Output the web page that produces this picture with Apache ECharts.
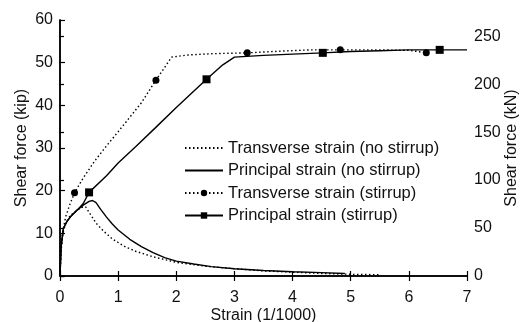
<!DOCTYPE html>
<html>
<head>
<meta charset="utf-8">
<script src="https://cdn.jsdelivr.net/npm/echarts@6/dist/echarts.min.js"></script>
<style>
  html, body { margin: 0; padding: 0; background: #fff; }
  #chart { width: 526px; height: 322px; }
</style>
</head>
<body>
<div id="chart"></div>
<script>
// Strain axis ticks (1/1000) and force ticks (kip, kN)
const strainTicks = [0, 1, 2, 3, 4, 5, 6, 7];
const kipTicks = [0, 10, 20, 30, 40, 50, 60];
const kNTicks = [0, 50, 100, 150, 200, 250];
const KIP_TO_KN = 4.448;

// Transverse strain, no stirrup
const tnsNoStirStrain = [0, 0.02, 0.05, 0.1, 0.18, 0.28, 0.38, 0.44, 0.52, 0.62, 0.75, 0.9, 1.1, 1.3, 1.6, 2.0, 2.5, 3.0, 3.5, 4.0, 4.5, 5.0, 5.5];
const tnsNoStirShear  = [0, 6, 10, 12.5, 14.2, 15.3, 16.1, 16.2, 14.5, 12.4, 10.5, 8.7, 7.0, 5.8, 4.5, 3.2, 2.3, 1.7, 1.2, 0.9, 0.6, 0.4, 0.3];

// Principal strain, no stirrup
const prnNoStirStrain = [0, 0.02, 0.06, 0.12, 0.2, 0.3, 0.4, 0.5, 0.56, 0.62, 0.7, 0.8, 0.9, 1.0, 1.2, 1.4, 1.6, 1.8, 2.0, 2.3, 2.6, 3.0, 3.5, 4.0, 4.5, 4.9];
const prnNoStirShear  = [0, 7, 11.2, 12.8, 14.2, 15.5, 16.6, 17.5, 17.7, 17.2, 15.6, 13.8, 12.2, 10.8, 8.6, 6.9, 5.5, 4.3, 3.5, 2.8, 2.2, 1.7, 1.3, 1.0, 0.8, 0.6];

// Transverse strain, with stirrups (marked = measured points)
const tnsStirStrain = [0, 0.01, 0.04, 0.1, 0.17, 0.25, 0.4, 0.6, 0.8, 1.0, 1.2, 1.4, 1.65, 1.92, 2.2, 2.6, 3.22, 3.8, 4.3, 4.82, 5.4, 6.0, 6.3];
const tnsStirShear  = [0, 5, 10, 14, 16.8, 19.5, 23, 27, 30.5, 33.8, 37.2, 40.6, 45.9, 51.3, 51.8, 52.1, 52.3, 52.7, 53.0, 53.0, 53.0, 52.9, 52.3];
const tnsStirMarked = [0, 0, 0, 0, 0, 1, 0, 0, 0, 0, 0, 0, 1, 0, 0, 0, 1, 0, 0, 1, 0, 0, 1];

// Principal strain, with stirrups
const prnStirStrain = [0, 0.02, 0.06, 0.12, 0.2, 0.3, 0.4, 0.5, 0.8, 1.0, 1.3, 1.63, 2.0, 2.52, 2.8, 3.0, 3.5, 4.0, 4.52, 5.0, 5.5, 6.0, 6.53, 7.0];
const prnStirShear  = [0, 7, 11.2, 12.8, 14.2, 15.5, 17.0, 19.6, 23.5, 26.5, 30.3, 34.6, 39.5, 46.1, 49.5, 51.3, 51.7, 52.0, 52.3, 52.6, 52.8, 53.0, 53.0, 53.0];
const prnStirMarked = [0, 0, 0, 0, 0, 0, 0, 1, 0, 0, 0, 0, 0, 1, 0, 0, 0, 0, 1, 0, 0, 0, 1, 0];

const seriesNames = [
  'Transverse strain (no stirrup)',
  'Principal strain (no stirrup)',
  'Transverse strain (stirrup)',
  'Principal strain (stirrup)'
];

const FONT = '"Liberation Sans", Arial, Helvetica, sans-serif';
const INK = '#111';

function pairs(xs, ys, marked) {
  return xs.map((x, i) => {
    const item = { value: [x, ys[i]] };
    if (marked && !marked[i]) item.symbol = 'none';
    return item;
  });
}

const dotted = { color: '#000', width: 1.4, type: [1.5, 2.5] };
const solid = { color: '#000', width: 1.4, type: 'solid' };

const chart = echarts.init(document.getElementById('chart'), null, { renderer: 'canvas' });

chart.setOption({
  animation: false,
  backgroundColor: '#fff',
  textStyle: { fontFamily: FONT, color: INK },
  grid: { left: 60, right: 59, top: 20, bottom: 46, containLabel: false, outerBoundsMode: 'none' },
  legend: {
    orient: 'vertical',
    left: 184,
    top: 139,
    padding: 0,
    itemWidth: 38,
    itemHeight: 8,
    itemGap: 4.5,
    data: [
      { name: seriesNames[0], itemStyle: { opacity: 0 } },
      { name: seriesNames[1], itemStyle: { opacity: 0 } },
      { name: seriesNames[2] },
      { name: seriesNames[3] }
    ],
    textStyle: { fontFamily: FONT, fontSize: 16.5, color: INK, lineHeight: 18 },
    inactiveColor: '#000',
    selectedMode: false
  },
  xAxis: [
    {
      type: 'value', position: 'bottom',
      min: strainTicks[0], max: strainTicks[strainTicks.length - 1], interval: 1,
      name: 'Strain (1/1000)', nameLocation: 'middle', nameGap: 32, nameMoveOverlap: false,
      nameTextStyle: { fontFamily: FONT, fontSize: 16, color: INK },
      axisLine: { show: true, lineStyle: { color: '#000', width: 1.5 } },
      axisTick: { show: true, inside: true, length: 5, lineStyle: { color: '#000', width: 1.2 } },
      axisLabel: { fontFamily: FONT, fontSize: 16, color: INK, margin: 14 },
      splitLine: { show: false }
    },
    {
      type: 'value', position: 'top',
      min: strainTicks[0], max: strainTicks[strainTicks.length - 1], interval: 1,
      axisLine: { show: true, lineStyle: { color: '#000', width: 1.5 } },
      axisTick: { show: true, inside: true, length: 5, lineStyle: { color: '#000', width: 1.2 } },
      axisLabel: { show: false },
      splitLine: { show: false }
    }
  ],
  yAxis: [
    {
      type: 'value', position: 'left',
      min: kipTicks[0], max: kipTicks[kipTicks.length - 1], interval: 10,
      name: 'Shear force (kip)', nameLocation: 'middle', nameGap: 30, nameRotate: 90, nameMoveOverlap: false,
      nameTextStyle: { fontFamily: FONT, fontSize: 16, color: INK },
      axisLine: { show: true, lineStyle: { color: '#000', width: 1.5 } },
      axisTick: { show: true, inside: true, length: 5, lineStyle: { color: '#000', width: 1.2 } },
      axisLabel: { fontFamily: FONT, fontSize: 16, color: INK, margin: 7 },
      splitLine: { show: false }
    },
    {
      type: 'value', position: 'right',
      min: 0, max: kipTicks[kipTicks.length - 1] * KIP_TO_KN,
      name: 'Shear force (kN)', nameLocation: 'middle', nameGap: 37, nameRotate: 90, nameMoveOverlap: false,
      nameTextStyle: { fontFamily: FONT, fontSize: 16, color: INK },
      axisLine: { show: true, lineStyle: { color: '#000', width: 1.5 } },
      axisTick: { show: true, inside: false, length: 4, customValues: kNTicks, lineStyle: { color: '#000', width: 1.2 } },
      axisLabel: { fontFamily: FONT, fontSize: 16, color: INK, margin: 7, customValues: kNTicks },
      splitLine: { show: false }
    }
  ],
  series: [
    {
      name: seriesNames[0], type: 'line', xAxisIndex: 0, yAxisIndex: 0,
      symbol: 'none', color: '#000', lineStyle: dotted,
      data: pairs(tnsNoStirStrain, tnsNoStirShear)
    },
    {
      name: seriesNames[1], type: 'line', xAxisIndex: 0, yAxisIndex: 0,
      symbol: 'none', color: '#000', lineStyle: solid,
      data: pairs(prnNoStirStrain, prnNoStirShear)
    },
    {
      name: seriesNames[2], type: 'line', xAxisIndex: 0, yAxisIndex: 0,
      symbol: 'circle', symbolSize: 7, showAllSymbol: true, color: '#000',
      itemStyle: { color: '#000', borderWidth: 0 },
      lineStyle: dotted,
      data: pairs(tnsStirStrain, tnsStirShear, tnsStirMarked)
    },
    {
      name: seriesNames[3], type: 'line', xAxisIndex: 0, yAxisIndex: 0,
      symbol: 'rect', symbolSize: 8, showAllSymbol: true, color: '#000',
      itemStyle: { color: '#000', borderWidth: 0 },
      lineStyle: solid,
      data: pairs(prnStirStrain, prnStirShear, prnStirMarked)
    }
  ]
});
</script>
</body>
</html>
